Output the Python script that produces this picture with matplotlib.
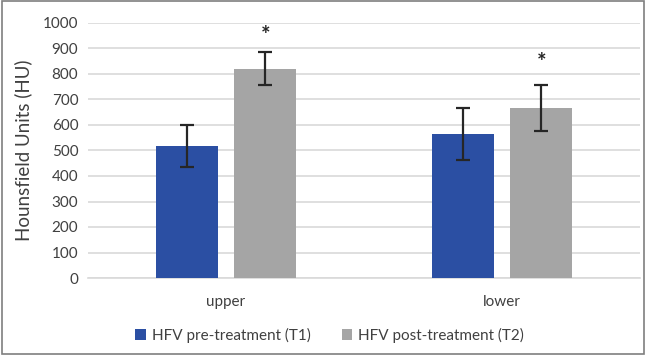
import matplotlib
matplotlib.use("Agg")
import matplotlib.pyplot as plt
import numpy as np
from matplotlib.patches import Rectangle

categories = ["upper", "lower"]
series_names = ["HFV pre-treatment (T1)", "HFV post-treatment (T2)"]
t1_values = [518, 565]
t1_err = [82, 103]
t2_values = [820, 665]
t2_err = [65, 90]
star_y = [950, 845]
yticks = [0, 100, 200, 300, 400, 500, 600, 700, 800, 900, 1000]

colors = ["#2B4FA3", "#A5A5A5"]
plt.rcParams['font.family'] = ['Lato', 'DejaVu Sans']

fig = plt.figure(figsize=(6.46, 3.55), dpi=100)
ax = fig.add_axes([88/646, 1-278/355, 552/646, 255/355])

x = np.arange(len(categories))
w = 0.225
off = 0.1425
ekw = dict(ecolor="#262626", elinewidth=1.6, capsize=5, capthick=1.6)
ax.bar(x - off, t1_values, w, yerr=t1_err, color=colors[0], label=series_names[0], error_kw=ekw, zorder=3)
ax.bar(x + off, t2_values, w, yerr=t2_err, color=colors[1], label=series_names[1], error_kw=ekw, zorder=3)
for i in range(len(categories)):
    ax.text(x[i] + off, star_y[i], "*", ha="center", va="center", fontsize=16, fontweight="bold", color="#262626")

ax.set_xlim(-0.5, 1.5)
ax.set_ylim(0, 1000)
ax.set_yticks(yticks)
ax.set_xticks(x)
ax.set_xticklabels(categories)
ax.yaxis.grid(True, color="#D9D9D9", linewidth=1.2, zorder=0)
ax.set_axisbelow(True)
for s in ["top", "right", "left"]:
    ax.spines[s].set_visible(False)
ax.spines["bottom"].set_color("#D9D9D9")
ax.spines["bottom"].set_linewidth(1.2)
ax.tick_params(axis="both", length=0, labelsize=11, labelcolor="#404040", pad=7)
ax.tick_params(axis="x", pad=12)
ax.set_ylabel("Hounsfield Units (HU)", fontsize=13.5, color="#404040", labelpad=8)

ax.legend(loc="center", bbox_to_anchor=(0.438, -0.224), ncol=2, frameon=False,
          fontsize=11, handlelength=0.7, handleheight=0.7, columnspacing=2.0,
          handletextpad=0.4, labelcolor="#404040")

fig.patches.append(Rectangle((0.003, 0.003), 0.994, 0.994, transform=fig.transFigure,
                             fill=False, edgecolor="#7F7F7F", linewidth=1.2))
fig.savefig("out.png", dpi=100)
